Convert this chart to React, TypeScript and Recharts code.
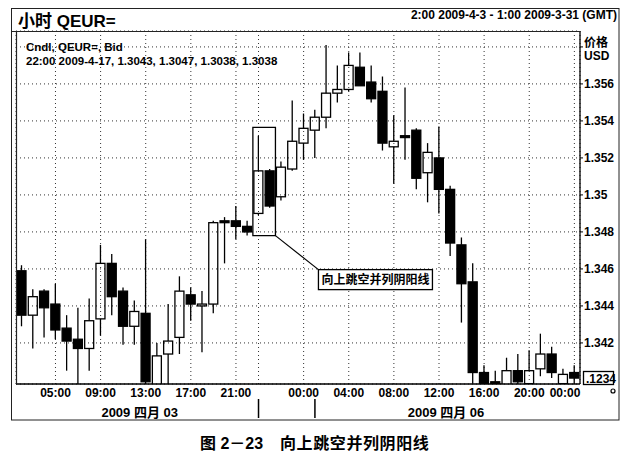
import { ComposedChart, Bar, XAxis, YAxis, CartesianGrid, ReferenceArea } from 'recharts';

// hourly candles, 2:00 Apr 3 through Apr 6
const opens = [
  1.3459, 1.3435, 1.3448, 1.3441, 1.3428, 1.3422, 1.3417, 1.3433, 1.3463, 1.3448,
  1.3429, 1.3436, 1.3394, 1.3414, 1.3423, 1.3446, 1.3440, 1.3441, 1.3486, 1.3486,
  1.3483, 1.3490, 1.3513, 1.3499, 1.3514, 1.3528, 1.3535, 1.3542, 1.3555, 1.3557,
  1.3569, 1.3561, 1.3556, 1.3526, 1.3532, 1.3535, 1.3512, 1.3520, 1.3503, 1.3473,
  1.3453, 1.3404, 1.3399, 1.3397, 1.3405, 1.3398, 1.3406, 1.3414, 1.3398, 1.3404,
];
const highs = [
  1.3462, 1.3449, 1.3449, 1.3452, 1.3435, 1.3439, 1.3444, 1.3473, 1.3468, 1.3450,
  1.3443, 1.3476, 1.3420, 1.3441, 1.3456, 1.3450, 1.3448, 1.3486, 1.3488, 1.3494,
  1.3486, 1.3532, 1.3514, 1.3518, 1.3551, 1.3544, 1.3546, 1.3581, 1.3570, 1.3577,
  1.3577, 1.3570, 1.3564, 1.3543, 1.3558, 1.3536, 1.3528, 1.3537, 1.3505, 1.3477,
  1.3463, 1.3408, 1.3405, 1.3412, 1.3414, 1.3416, 1.3425, 1.3418, 1.3406, 1.3408,
];
const lows = [
  1.3429, 1.3417, 1.3423, 1.3422, 1.3405, 1.3394, 1.3405, 1.3424, 1.3435, 1.3419,
  1.3419, 1.3394, 1.3392, 1.3394, 1.3414, 1.3432, 1.3415, 1.3436, 1.3463, 1.3476,
  1.3478, 1.3489, 1.3493, 1.3497, 1.3513, 1.3519, 1.3520, 1.3536, 1.3550, 1.3556,
  1.3559, 1.3550, 1.3524, 1.3506, 1.3519, 1.3503, 1.3496, 1.3490, 1.3467, 1.3431,
  1.3398, 1.3394, 1.3394, 1.3394, 1.3396, 1.3394, 1.3402, 1.3401, 1.3394, 1.3398,
];
const closes = [
  1.3435, 1.3445, 1.3439, 1.3427, 1.3421, 1.3417, 1.3432, 1.3463, 1.3445, 1.3429,
  1.3437, 1.3399, 1.3413, 1.3421, 1.3448, 1.3441, 1.3441, 1.3485, 1.3485, 1.3483,
  1.3480, 1.3513, 1.3494, 1.3515, 1.3529, 1.3536, 1.3542, 1.3555, 1.3557, 1.3570,
  1.3559, 1.3552, 1.3528, 1.3529, 1.3531, 1.3509, 1.3523, 1.3503, 1.3474, 1.3452,
  1.3404, 1.3397, 1.3396, 1.3405, 1.3399, 1.3405, 1.3414, 1.3404, 1.3403, 1.3401,
];

const timeTicks = [3, 7, 11, 15, 19, 21, 25, 29, 33, 37, 41, 45, 49];
const timeLabels = ['05:00', '09:00', '13:00', '17:00', '21:00', '', '00:00', '04:00', '08:00', '12:00', '16:00', '20:00', '00:00'];
const dayTicks = [11, 37];
const dayLabels = ['2009 四月 03', '2009 四月 06'];
const daySeparators = [21, 26];
const priceTicks = [1.342, 1.344, 1.346, 1.348, 1.35, 1.352, 1.354, 1.356, 1.358];

const FONT = '"Liberation Sans", Arial, "Noto Sans CJK SC", sans-serif';

const Candle = (props: any) => {
  const { x, y, width, height, payload } = props;
  const { o, h, l, c } = payload;
  const top = Math.min(y, y + height);
  const full = Math.abs(height);
  const cx = x + width / 2;
  const py = (v: number) => top + ((h - v) / (h - l)) * full;
  const bodyTop = py(Math.max(o, c));
  const bodyBot = py(Math.min(o, c));
  const up = c >= o;
  const bw = 9;
  return (
    <g>
      <line x1={cx} x2={cx} y1={top} y2={bodyTop} stroke="#000" strokeWidth={1.3} />
      <line x1={cx} x2={cx} y1={bodyBot} y2={top + full} stroke="#000" strokeWidth={1.3} />
      <rect
        x={cx - bw / 2}
        y={bodyTop}
        width={bw}
        height={Math.max(bodyBot - bodyTop, 1.5)}
        fill={up ? 'none' : '#000'}
        stroke="#000"
        strokeWidth={1.3}
      />
    </g>
  );
};

const TimeTick = ({ x, y, payload }: any) => {
  const i = timeTicks.indexOf(payload.value);
  const last = i === timeTicks.length - 1;
  return (
    <text x={last ? x + 6 : x} y={y + 11} textAnchor={last ? 'end' : 'middle'} fontSize={12} fontWeight="bold" fontFamily={FONT} fill="#000">
      {timeLabels[i]}
    </text>
  );
};

const DayTick = ({ x, y, payload }: any) => {
  const v = payload.value;
  if (daySeparators.includes(v)) {
    return <line x1={x} x2={x} y1={y - 7} y2={y + 12} stroke="#000" strokeWidth={1.5} />;
  }
  const i = dayTicks.indexOf(v);
  return (
    <text x={x + (i === 0 ? -6 : 7)} y={y + 11} textAnchor="middle" fontSize={13} fontWeight="bold" fontFamily={FONT} fill="#000">
      {dayLabels[i]}
    </text>
  );
};

const Callout = ({ viewBox }: any) => {
  const bx = viewBox.x + viewBox.width;
  const by = viewBox.y + viewBox.height;
  const lx = bx + 43;
  const ly = by + 34;
  return (
    <g>
      <line x1={bx} y1={by} x2={lx} y2={ly} stroke="#000" strokeWidth={1.2} />
      <rect x={lx} y={ly} width={114} height={20} fill="#fff" stroke="#000" strokeWidth={1.3} />
      <text x={lx + 57} y={ly + 14.5} textAnchor="middle" fontSize={12} fontWeight="bold" fontFamily={FONT} fill="#000">
        向上跳空并列阴阳线
      </text>
    </g>
  );
};

export default function App() {
  const data = opens.map((o, i) => ({
    idx: i,
    o,
    h: highs[i],
    l: lows[i],
    c: closes[i],
    range: [lows[i], highs[i]],
  }));

  return (
    <div style={{ position: 'absolute', left: 0, top: 0, width: 633, height: 459, background: '#fff', fontFamily: FONT }}>
      <ComposedChart width={633} height={459} data={data} margin={{ top: 31, right: 13, bottom: 35, left: 16 }}>
        <CartesianGrid stroke="#333" strokeDasharray="1 3" />
        <XAxis
          dataKey="idx"
          ticks={timeTicks}
          interval={0}
          axisLine={{ stroke: '#000', strokeWidth: 1.3 }}
          tickLine={false}
          tickSize={0}
          height={20}
          tick={<TimeTick />}
        />
        <XAxis
          xAxisId="date"
          dataKey="idx"
          ticks={[...dayTicks, ...daySeparators]}
          interval={0}
          axisLine={false}
          tickLine={false}
          tickSize={0}
          height={20}
          tick={<DayTick />}
        />
        <YAxis
          orientation="right"
          domain={[1.33978, 1.35886]}
          allowDataOverflow
          ticks={priceTicks}
          interval={0}
          width={40}
          axisLine={{ stroke: '#000', strokeWidth: 1.3 }}
          tickLine={{ stroke: '#000' }}
          tickSize={3}
          tickMargin={1}
          tick={{ fill: '#000', fontSize: 12, fontWeight: 'bold', fontFamily: FONT }}
          tickFormatter={(v: number) => (v > 1.357 ? '' : String(Number(v.toFixed(3))))}
        />
        <Bar dataKey="range" barSize={11} shape={<Candle />} isAnimationActive={false} />
        <ReferenceArea
          x1={21}
          x2={22}
          y1={1.3478}
          y2={1.35365}
          fill="none"
          stroke="#000"
          strokeWidth={1.3}
          fillOpacity={0}
          label={(p: any) => <Callout viewBox={p.viewBox} />}
        />
      </ComposedChart>

      <svg width={633} height={459} style={{ position: 'absolute', left: 0, top: 0, pointerEvents: 'none' }}>
        <rect x={11.5} y={8.5} width={607.5} height={411.5} fill="none" stroke="#222" strokeWidth={1} />
        <line x1={11} x2={580} y1={31.5} y2={31.5} stroke="#222" strokeWidth={1} />
        <line x1={16.5} x2={16.5} y1={31} y2={384} stroke="#222" strokeWidth={1.2} />
        <text x={18} y={27} fontSize={17} fontWeight="bold" fontFamily={FONT} fill="#000">小时 QEUR=</text>
        <text x={617} y={19} textAnchor="end" fontSize={12} fontWeight="bold" fontFamily={FONT} fill="#000">
          2:00 2009-4-3 - 1:00 2009-3-31 (GMT)
        </text>
        <text x={26} y={50.5} fontSize={11.5} fontWeight="bold" fontFamily={FONT} fill="#000">Cndl, QEUR=, Bid</text>
        <text x={26} y={65} fontSize={11.5} fontWeight="bold" fontFamily={FONT} fill="#000">
          22:00 2009-4-17, 1.3043, 1.3047, 1.3038, 1.3038
        </text>
        <text x={584} y={46.5} fontSize={12} fontWeight="bold" fontFamily={FONT} fill="#000">价格</text>
        <text x={584} y={60} fontSize={12} fontWeight="bold" fontFamily={FONT} fill="#000">USD</text>
        <rect x={583.5} y={371.5} width={30} height={13} fill="#fff" stroke="#000" strokeWidth={1.3} />
        <text x={586} y={382.5} fontSize={12} fontWeight="bold" fontFamily={FONT} fill="#000">.1234</text>
        <circle cx={613} cy={391} r={2} fill="none" stroke="#000" strokeWidth={1.2} />
        <text x={200} y={449} fontSize={16} fontWeight="bold" fontFamily={FONT} fill="#000">图 2－23</text>
        <text x={280} y={449} fontSize={16} fontWeight="bold" fontFamily={FONT} fill="#000" letterSpacing={0.6}>
          向上跳空并列阴阳线
        </text>
      </svg>
    </div>
  );
}
